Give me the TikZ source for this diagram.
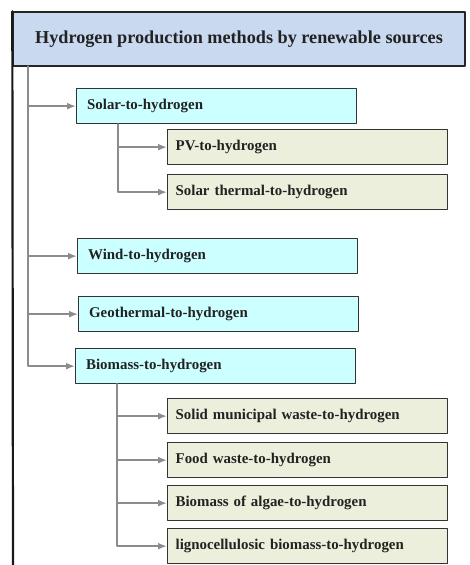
\documentclass[tikz,border=0pt]{standalone}
\usepackage{fontspec}
\setmainfont{Liberation Serif}
\usetikzlibrary{arrows.meta,positioning}

\definecolor{titleblue}{HTML}{C9D9F0}
\definecolor{methodcyan}{HTML}{CCFFFF}
\definecolor{routebeige}{HTML}{ECEFDB}
\definecolor{linkgray}{HTML}{8C8C8C}
\definecolor{inkdark}{HTML}{222222}

\begin{document}
\begin{tikzpicture}[x=1pt, y=-1pt, >={Latex[length=9pt,width=7pt]}, line cap=round, line join=round,
  font=\bfseries\fontsize{14.9}{17}\selectfont, text=inkdark,
  titlebox/.style={draw=black!85, line width=1.4pt, fill=titleblue, minimum width=452pt, minimum height=54pt, font=\bfseries\fontsize{18.2}{20}\selectfont},
  methodbox/.style={draw=black!80, line width=1.3pt, fill=methodcyan, anchor=north west, minimum height=35pt, text width=259pt, inner xsep=10.5pt, align=left},
  routebox/.style={draw=black!80, line width=1.3pt, fill=routebeige, anchor=north west, minimum height=35pt, text width=264pt, inner xsep=8pt, align=left},
  feed/.style={->, draw=linkgray, line width=2.1pt}]

\useasboundingbox (0,0) rectangle (469,565);

\node[titlebox] (title) at (239,39) {Hydrogen production methods by renewable sources};
\coordinate (frameend) at (13,565);
\draw[black!90, line width=2.2pt] (title.north west) -- (frameend);

% main methods
\node[methodbox] (solar) at (76,88) {Solar-to-hydrogen};
\node[methodbox] (wind) at (77,238) {Wind-to-hydrogen};
\node[methodbox] (geo) at (78,296) {Geothermal-to-hydrogen};
\node[methodbox] (bio) at (75,348) {Biomass-to-hydrogen};

\coordinate (trunk) at ([xshift=16pt]title.south west);
\foreach \m in {solar,wind,geo,bio}{
  \draw[feed] (trunk) |- (\m.west);
}

% solar routes
\coordinate (solarfork) at ([xshift=42pt]solar.south west);
\foreach \name/\y/\txt in {pv/129/PV-to-hydrogen, thermal/174/Solar thermal-to-hydrogen}{
  \node[routebox] (\name) at (167,\y) {\txt};
  \draw[feed] (solarfork) |- (\name.west);
}

% biomass routes
\coordinate (biofork) at ([xshift=42pt]bio.south west);
\foreach \name/\y/\txt in {solid/398/Solid municipal waste-to-hydrogen, food/442/Food waste-to-hydrogen, algae/485/Biomass of algae-to-hydrogen, ligno/528/lignocellulosic biomass-to-hydrogen}{
  \node[routebox] (\name) at (167,\y) {\txt};
  \draw[feed] (biofork) |- (\name.west);
}

\end{tikzpicture}
\end{document}
